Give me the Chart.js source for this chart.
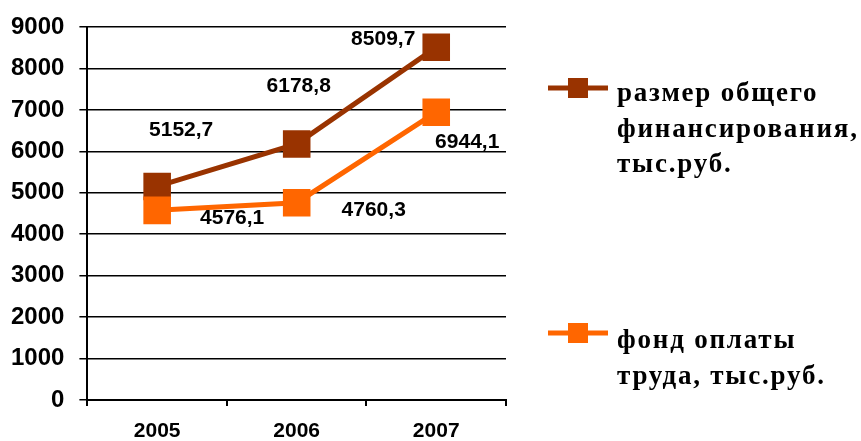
<!DOCTYPE html>
<html>
<head>
<meta charset="utf-8">
<script src="https://cdn.jsdelivr.net/npm/chart.js@4"></script>
<style>
  html, body { margin: 0; padding: 0; background: #fff; }
  #wrap { width: 861px; height: 441px; }
</style>
</head>
<body>
<div id="wrap"><canvas id="c" width="861" height="441"></canvas></div>
<script>
const categories = ['2005', '2006', '2007'];
const financingValues = [5152.7, 6178.8, 8509.7];
const payrollValues = [4576.1, 4760.3, 6944.1];
const financingLabel = ['размер общего', 'финансирования,', 'тыс.руб.'];
const payrollLabel = ['фонд оплаты', 'труда, тыс.руб.'];
const yTicks = [0, 1000, 2000, 3000, 4000, 5000, 6000, 7000, 8000, 9000];

const DARK = '#993300';
const ORANGE = '#FF6600';

function fmt(v) { return v.toFixed(1).replace('.', ','); }

// label offsets (pixels, relative to point) per dataset
const labelOffsets = [
  [[24, -56], [2, -58], [-53, -8]],
  [[75, 8], [77, 7], [31, 30]]
];

const dataLabelsPlugin = {
  id: 'dataLabels',
  afterDatasetsDraw(chart) {
    const ctx = chart.ctx;
    ctx.save();
    ctx.font = 'bold 21px "Liberation Sans", Arial, sans-serif';
    ctx.fillStyle = '#000';
    ctx.textAlign = 'center';
    ctx.textBaseline = 'middle';
    chart.data.datasets.forEach((ds, di) => {
      const meta = chart.getDatasetMeta(di);
      meta.data.forEach((pt, i) => {
        const off = labelOffsets[di][i];
        ctx.fillText(fmt(ds.data[i]), pt.x + off[0], pt.y + off[1]);
      });
    });
    ctx.restore();
  }
};

const legendPlugin = {
  id: 'customLegend',
  afterDraw(chart) {
    const ctx = chart.ctx;
    const items = [
      { lines: financingLabel, color: DARK, y: 88, base: 101 },
      { lines: payrollLabel, color: ORANGE, y: 333, base: 348 }
    ];
    ctx.save();
    items.forEach(it => {
      ctx.fillStyle = it.color;
      ctx.fillRect(548, it.y - 2.5, 60, 5);
      ctx.fillRect(568, it.y - 10, 20, 20);
      ctx.fillStyle = '#000';
      ctx.font = 'bold 27px "Liberation Serif"';
      ctx.letterSpacing = '1.8px';
      ctx.textAlign = 'left';
      ctx.textBaseline = 'alphabetic';
      it.lines.forEach((t, k) => {
        ctx.fillText(t, 617, it.base + k * 35.5);
      });
    });
    ctx.restore();
  }
};

new Chart(document.getElementById('c'), {
  type: 'line',
  data: {
    labels: categories,
    datasets: [
      {
        label: financingLabel.join(' '),
        data: financingValues,
        borderColor: DARK,
        backgroundColor: DARK,
        borderWidth: 5,
        pointStyle: 'rect',
        pointRadius: 19.5,
        pointBorderWidth: 0,
        pointBackgroundColor: DARK,
        tension: 0,
        order: 1
      },
      {
        label: payrollLabel.join(' '),
        data: payrollValues,
        borderColor: ORANGE,
        backgroundColor: ORANGE,
        borderWidth: 5,
        pointStyle: 'rect',
        pointRadius: 19.5,
        pointBorderWidth: 0,
        pointBackgroundColor: ORANGE,
        tension: 0,
        order: 0
      }
    ]
  },
  options: {
    responsive: false,
    animation: false,
    devicePixelRatio: 1,
    layout: { padding: { left: -4, right: 355, top: 25, bottom: -16 } },
    plugins: {
      legend: { display: false },
      tooltip: { enabled: false }
    },
    scales: {
      x: {
        offset: true,
        grid: {
          offset: true,
          drawOnChartArea: true,
          color: (c) => (c.index === 0 || c.index === 3) ? '#000' : 'rgba(0,0,0,0)',
          tickColor: '#000',
          lineWidth: 2,
          tickLength: 6
        },
        border: { display: true, color: '#000', width: 2 },
        ticks: {
          color: '#000',
          padding: 15,
          font: { family: '"Liberation Sans", Arial, sans-serif', size: 21, weight: 'bold', lineHeight: 1 }
        }
      },
      y: {
        min: 0,
        max: 9000,
        afterBuildTicks(scale) { scale.ticks = yTicks.map(v => ({ value: v })); },
        grid: {
          color: '#000',
          lineWidth: 1.5,
          tickLength: 8,
          tickColor: '#000'
        },
        border: { display: true, color: '#000', width: 2 },
        ticks: {
          color: '#000',
          padding: 15,
          callback: (v) => String(v),
          font: { family: '"Liberation Sans", Arial, sans-serif', size: 24, weight: 'bold', lineHeight: 1 }
        }
      }
    }
  },
  plugins: [dataLabelsPlugin, legendPlugin]
});
</script>
</body>
</html>
